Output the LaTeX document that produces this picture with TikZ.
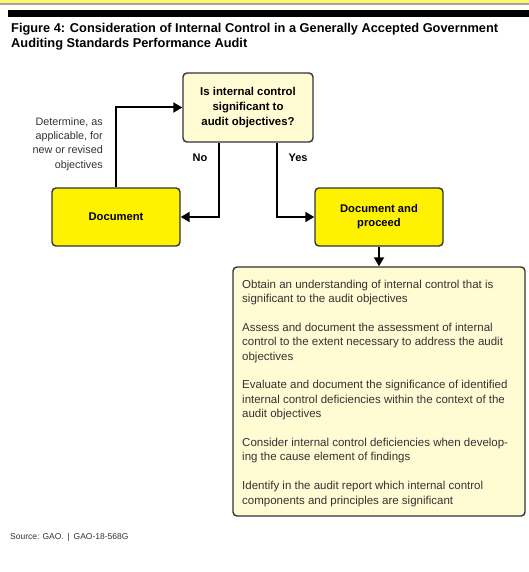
\documentclass[tikz,border=0pt]{standalone}
\usepackage{fontspec}
\setmainfont{Liberation Sans}
\usetikzlibrary{arrows.meta,positioning}
\definecolor{ybright}{HTML}{FFF200}
\definecolor{ylight}{HTML}{FFFBD2}
\definecolor{bord}{HTML}{333333}
\definecolor{txtgray}{HTML}{333333}
\tikzset{
  boxbase/.style={draw=bord, line width=1.4pt, rounded corners=4pt, inner sep=0pt},
  brightbox/.style={boxbase, fill=ybright, minimum width=128pt, minimum height=58pt, font=\fontsize{11.2}{13.8}\selectfont\bfseries, align=center},
  lightbox/.style={boxbase, fill=ylight},
  arr/.style={line width=2pt, -{Triangle[length=9pt,width=10pt]}},
  lbl/.style={font=\fontsize{11}{13}\selectfont\bfseries, inner sep=0pt},
}
\begin{document}
\begin{tikzpicture}[x=1pt,y=-1pt]
\useasboundingbox (0,0) rectangle (529,572);
\fill[white] (0,0) rectangle (529,572);
% top stripes
\fill[yellow!60!white] (0,0) rectangle (529,3);
\fill[gray!70] (0,3.5) rectangle (529,5);
\fill[black] (8,10) rectangle (529,17);
% title
\node[anchor=north west, inner sep=0pt, align=left, font=\fontsize{12.8}{14.5}\selectfont\bfseries] (title) at (11,23.5)
  {Figure 4: Consideration of Internal Control in a Generally Accepted Government\\Auditing Standards Performance Audit};
% boxes
\node[lightbox, minimum width=130pt, minimum height=69pt, font=\fontsize{11.4}{14.6}\selectfont\bfseries, align=center] (q) at (248,107.5)
  {Is internal control\\significant to\\audit objectives?};
\node[brightbox] (doc) at (116,217) {Document};
\node[brightbox] (dp) at (379,217) {Document and\\proceed};
\node[lightbox, minimum width=292pt, minimum height=249pt] (big) at (379,391.5) {};
\node[anchor=north west, inner sep=0pt, align=left, text=txtgray, font=\fontsize{11.5}{14.4}\selectfont] (bigtext) at (242,279.5)
  {Obtain an understanding of internal control that is\\
   significant to the audit objectives\\[14.4pt]
   Assess and document the assessment of internal\\
   control to the extent necessary to address the audit\\
   objectives\\[14.4pt]
   Evaluate and document the significance of identified\\
   internal control deficiencies within the context of the\\
   audit objectives\\[14.4pt]
   Consider internal control deficiencies when develop-\\
   ing the cause element of findings\\[14.4pt]
   Identify in the audit report which internal control\\
   components and principles are significant};
% connectors
\draw[arr] (doc.north) |- (q.west);
\draw[arr] ([xshift=-29pt]q.south) |- (doc.east);
\draw[arr] ([xshift=29pt]q.south) |- (dp.west);
\draw[arr] (dp.south) -- (big.north);
% labels
\node[lbl] (no) at (200,158) {No};
\node[lbl] (yes) at (298,158) {Yes};
\node[anchor=east, inner sep=0pt, align=right, text=txtgray, font=\fontsize{10.8}{14.3}\selectfont] (det) at (103,144)
  {Determine, as\\applicable, for\\new or revised\\objectives};
\node[anchor=west, inner sep=0pt, text=txtgray, font=\fontsize{8.5}{10}\selectfont] (src) at (10,537) {Source: GAO. \,|\, GAO-18-568G};
\end{tikzpicture}
\end{document}
